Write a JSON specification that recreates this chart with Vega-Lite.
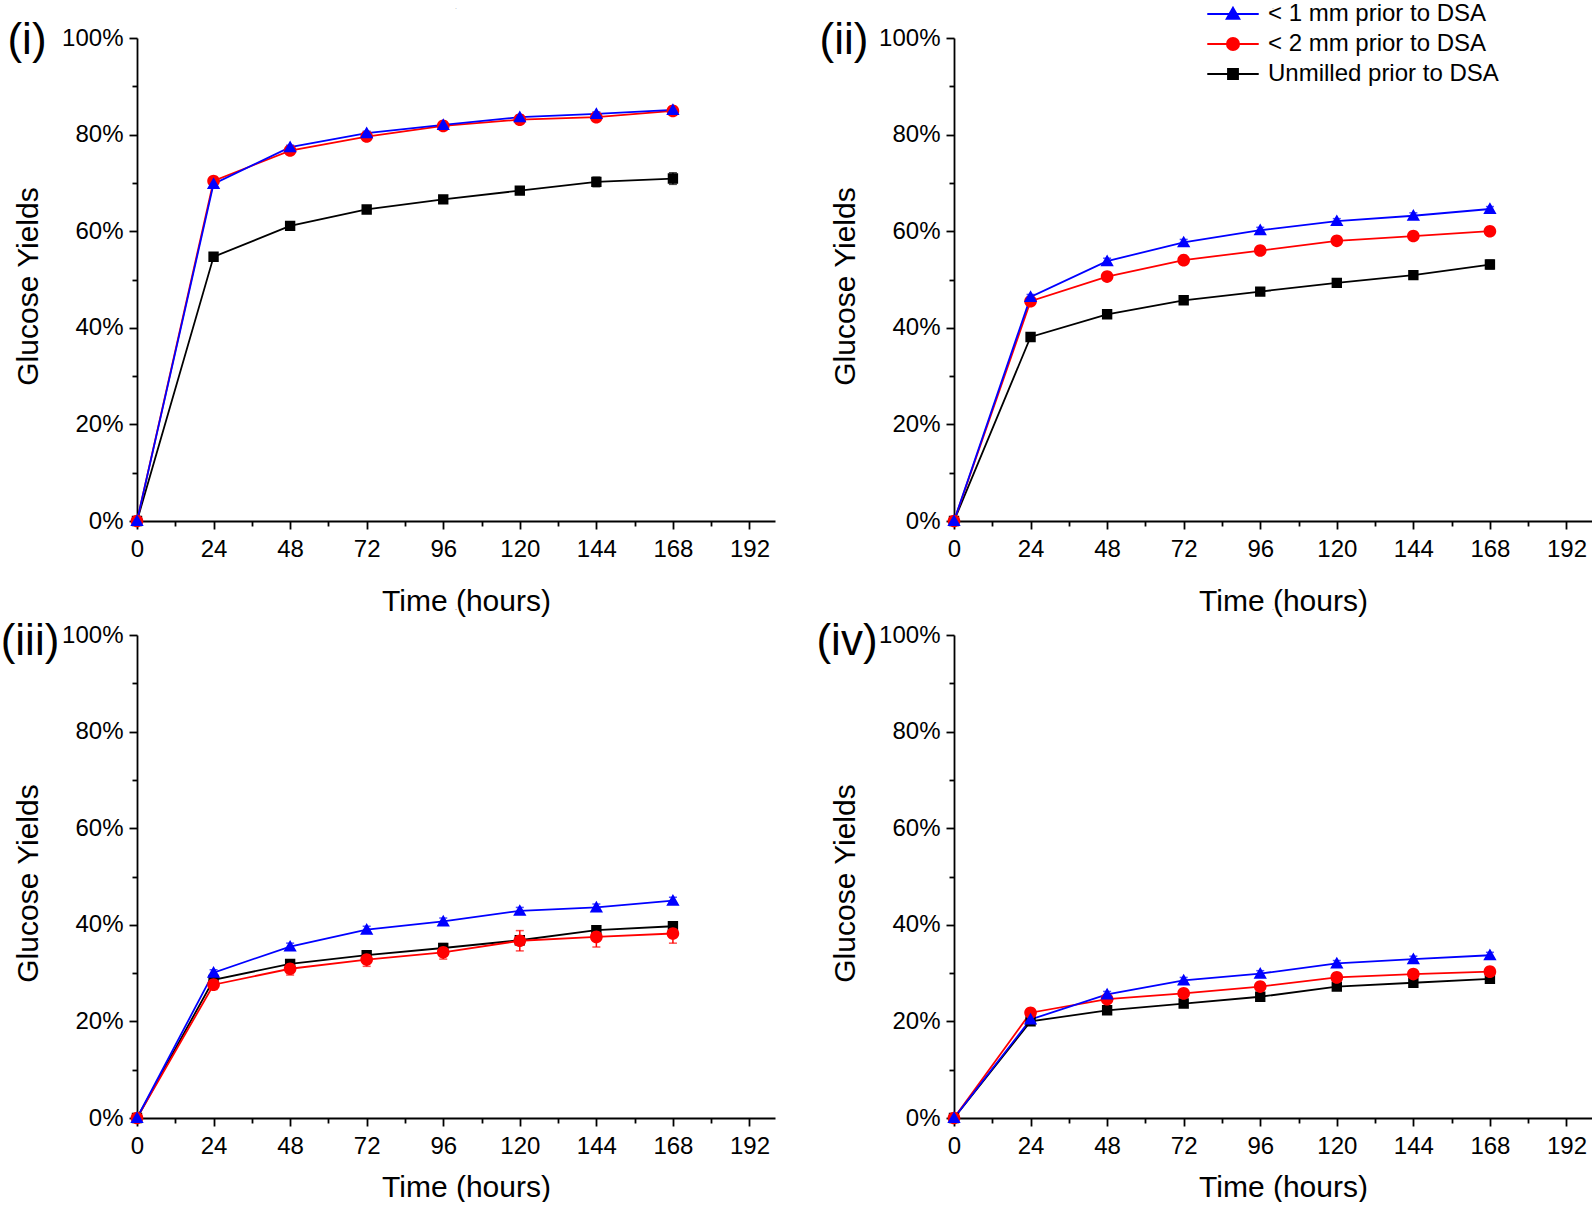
{
  "$schema": "https://vega.github.io/schema/vega-lite/v6.json",
  "padding": {"top": 2, "left": 0, "right": 0, "bottom": 0},
  "spacing": -7,
  "datasets": {
    "d": [
      {"p":"(i)","s":"Unmilled prior to DSA","t":0,"v":0,"e":0},
      {"p":"(i)","s":"Unmilled prior to DSA","t":24,"v":0.547,"e":0.004},
      {"p":"(i)","s":"Unmilled prior to DSA","t":48,"v":0.611,"e":0.004},
      {"p":"(i)","s":"Unmilled prior to DSA","t":72,"v":0.645,"e":0.004},
      {"p":"(i)","s":"Unmilled prior to DSA","t":96,"v":0.666,"e":0.005},
      {"p":"(i)","s":"Unmilled prior to DSA","t":120,"v":0.684,"e":0.005},
      {"p":"(i)","s":"Unmilled prior to DSA","t":144,"v":0.702,"e":0.010},
      {"p":"(i)","s":"Unmilled prior to DSA","t":168,"v":0.709,"e":0.012},
      {"p":"(i)","s":"< 2 mm prior to DSA","t":0,"v":0,"e":0},
      {"p":"(i)","s":"< 2 mm prior to DSA","t":24,"v":0.704,"e":0.004},
      {"p":"(i)","s":"< 2 mm prior to DSA","t":48,"v":0.767,"e":0.004},
      {"p":"(i)","s":"< 2 mm prior to DSA","t":72,"v":0.796,"e":0.004},
      {"p":"(i)","s":"< 2 mm prior to DSA","t":96,"v":0.818,"e":0.004},
      {"p":"(i)","s":"< 2 mm prior to DSA","t":120,"v":0.831,"e":0.004},
      {"p":"(i)","s":"< 2 mm prior to DSA","t":144,"v":0.836,"e":0.004},
      {"p":"(i)","s":"< 2 mm prior to DSA","t":168,"v":0.849,"e":0.004},
      {"p":"(i)","s":"< 1 mm prior to DSA","t":0,"v":0,"e":0},
      {"p":"(i)","s":"< 1 mm prior to DSA","t":24,"v":0.698,"e":0.004},
      {"p":"(i)","s":"< 1 mm prior to DSA","t":48,"v":0.774,"e":0.004},
      {"p":"(i)","s":"< 1 mm prior to DSA","t":72,"v":0.803,"e":0.004},
      {"p":"(i)","s":"< 1 mm prior to DSA","t":96,"v":0.820,"e":0.004},
      {"p":"(i)","s":"< 1 mm prior to DSA","t":120,"v":0.836,"e":0.004},
      {"p":"(i)","s":"< 1 mm prior to DSA","t":144,"v":0.843,"e":0.004},
      {"p":"(i)","s":"< 1 mm prior to DSA","t":168,"v":0.851,"e":0.004},

      {"p":"(ii)","s":"Unmilled prior to DSA","t":0,"v":0,"e":0},
      {"p":"(ii)","s":"Unmilled prior to DSA","t":24,"v":0.381,"e":0.004},
      {"p":"(ii)","s":"Unmilled prior to DSA","t":48,"v":0.428,"e":0.004},
      {"p":"(ii)","s":"Unmilled prior to DSA","t":72,"v":0.457,"e":0.004},
      {"p":"(ii)","s":"Unmilled prior to DSA","t":96,"v":0.475,"e":0.004},
      {"p":"(ii)","s":"Unmilled prior to DSA","t":120,"v":0.493,"e":0.005},
      {"p":"(ii)","s":"Unmilled prior to DSA","t":144,"v":0.509,"e":0.006},
      {"p":"(ii)","s":"Unmilled prior to DSA","t":168,"v":0.531,"e":0.009},
      {"p":"(ii)","s":"< 2 mm prior to DSA","t":0,"v":0,"e":0},
      {"p":"(ii)","s":"< 2 mm prior to DSA","t":24,"v":0.455,"e":0.004},
      {"p":"(ii)","s":"< 2 mm prior to DSA","t":48,"v":0.506,"e":0.004},
      {"p":"(ii)","s":"< 2 mm prior to DSA","t":72,"v":0.540,"e":0.004},
      {"p":"(ii)","s":"< 2 mm prior to DSA","t":96,"v":0.560,"e":0.004},
      {"p":"(ii)","s":"< 2 mm prior to DSA","t":120,"v":0.580,"e":0.004},
      {"p":"(ii)","s":"< 2 mm prior to DSA","t":144,"v":0.590,"e":0.004},
      {"p":"(ii)","s":"< 2 mm prior to DSA","t":168,"v":0.600,"e":0.006},
      {"p":"(ii)","s":"< 1 mm prior to DSA","t":0,"v":0,"e":0},
      {"p":"(ii)","s":"< 1 mm prior to DSA","t":24,"v":0.464,"e":0.005},
      {"p":"(ii)","s":"< 1 mm prior to DSA","t":48,"v":0.538,"e":0.006},
      {"p":"(ii)","s":"< 1 mm prior to DSA","t":72,"v":0.577,"e":0.006},
      {"p":"(ii)","s":"< 1 mm prior to DSA","t":96,"v":0.602,"e":0.006},
      {"p":"(ii)","s":"< 1 mm prior to DSA","t":120,"v":0.621,"e":0.005},
      {"p":"(ii)","s":"< 1 mm prior to DSA","t":144,"v":0.632,"e":0.006},
      {"p":"(ii)","s":"< 1 mm prior to DSA","t":168,"v":0.646,"e":0.005},

      {"p":"(iii)","s":"Unmilled prior to DSA","t":0,"v":0,"e":0},
      {"p":"(iii)","s":"Unmilled prior to DSA","t":24,"v":0.286,"e":0.006},
      {"p":"(iii)","s":"Unmilled prior to DSA","t":48,"v":0.319,"e":0.008},
      {"p":"(iii)","s":"Unmilled prior to DSA","t":72,"v":0.337,"e":0.008},
      {"p":"(iii)","s":"Unmilled prior to DSA","t":96,"v":0.352,"e":0.009},
      {"p":"(iii)","s":"Unmilled prior to DSA","t":120,"v":0.368,"e":0.009},
      {"p":"(iii)","s":"Unmilled prior to DSA","t":144,"v":0.389,"e":0.009},
      {"p":"(iii)","s":"Unmilled prior to DSA","t":168,"v":0.397,"e":0.009},
      {"p":"(iii)","s":"< 2 mm prior to DSA","t":0,"v":0,"e":0},
      {"p":"(iii)","s":"< 2 mm prior to DSA","t":24,"v":0.276,"e":0.010},
      {"p":"(iii)","s":"< 2 mm prior to DSA","t":48,"v":0.309,"e":0.013},
      {"p":"(iii)","s":"< 2 mm prior to DSA","t":72,"v":0.328,"e":0.014},
      {"p":"(iii)","s":"< 2 mm prior to DSA","t":96,"v":0.343,"e":0.014},
      {"p":"(iii)","s":"< 2 mm prior to DSA","t":120,"v":0.367,"e":0.021},
      {"p":"(iii)","s":"< 2 mm prior to DSA","t":144,"v":0.375,"e":0.021},
      {"p":"(iii)","s":"< 2 mm prior to DSA","t":168,"v":0.382,"e":0.020},
      {"p":"(iii)","s":"< 1 mm prior to DSA","t":0,"v":0,"e":0},
      {"p":"(iii)","s":"< 1 mm prior to DSA","t":24,"v":0.301,"e":0.006},
      {"p":"(iii)","s":"< 1 mm prior to DSA","t":48,"v":0.355,"e":0.007},
      {"p":"(iii)","s":"< 1 mm prior to DSA","t":72,"v":0.390,"e":0.007},
      {"p":"(iii)","s":"< 1 mm prior to DSA","t":96,"v":0.407,"e":0.007},
      {"p":"(iii)","s":"< 1 mm prior to DSA","t":120,"v":0.429,"e":0.007},
      {"p":"(iii)","s":"< 1 mm prior to DSA","t":144,"v":0.436,"e":0.007},
      {"p":"(iii)","s":"< 1 mm prior to DSA","t":168,"v":0.450,"e":0.007},

      {"p":"(iv)","s":"Unmilled prior to DSA","t":0,"v":0,"e":0},
      {"p":"(iv)","s":"Unmilled prior to DSA","t":24,"v":0.200,"e":0.004},
      {"p":"(iv)","s":"Unmilled prior to DSA","t":48,"v":0.223,"e":0.004},
      {"p":"(iv)","s":"Unmilled prior to DSA","t":72,"v":0.237,"e":0.004},
      {"p":"(iv)","s":"Unmilled prior to DSA","t":96,"v":0.251,"e":0.004},
      {"p":"(iv)","s":"Unmilled prior to DSA","t":120,"v":0.272,"e":0.004},
      {"p":"(iv)","s":"Unmilled prior to DSA","t":144,"v":0.280,"e":0.004},
      {"p":"(iv)","s":"Unmilled prior to DSA","t":168,"v":0.288,"e":0.004},
      {"p":"(iv)","s":"< 2 mm prior to DSA","t":0,"v":0,"e":0},
      {"p":"(iv)","s":"< 2 mm prior to DSA","t":24,"v":0.218,"e":0.004},
      {"p":"(iv)","s":"< 2 mm prior to DSA","t":48,"v":0.246,"e":0.004},
      {"p":"(iv)","s":"< 2 mm prior to DSA","t":72,"v":0.258,"e":0.004},
      {"p":"(iv)","s":"< 2 mm prior to DSA","t":96,"v":0.272,"e":0.004},
      {"p":"(iv)","s":"< 2 mm prior to DSA","t":120,"v":0.291,"e":0.004},
      {"p":"(iv)","s":"< 2 mm prior to DSA","t":144,"v":0.298,"e":0.004},
      {"p":"(iv)","s":"< 2 mm prior to DSA","t":168,"v":0.303,"e":0.004},
      {"p":"(iv)","s":"< 1 mm prior to DSA","t":0,"v":0,"e":0},
      {"p":"(iv)","s":"< 1 mm prior to DSA","t":24,"v":0.204,"e":0.005},
      {"p":"(iv)","s":"< 1 mm prior to DSA","t":48,"v":0.256,"e":0.006},
      {"p":"(iv)","s":"< 1 mm prior to DSA","t":72,"v":0.285,"e":0.006},
      {"p":"(iv)","s":"< 1 mm prior to DSA","t":96,"v":0.299,"e":0.006},
      {"p":"(iv)","s":"< 1 mm prior to DSA","t":120,"v":0.320,"e":0.006},
      {"p":"(iv)","s":"< 1 mm prior to DSA","t":144,"v":0.329,"e":0.006},
      {"p":"(iv)","s":"< 1 mm prior to DSA","t":168,"v":0.337,"e":0.006}
    ]
  },
  "resolve": {"axis": {"x": "independent", "y": "independent"}},
  "vconcat": [
    {
      "data": {"name": "d"},
      "transform": [{"filter": "datum.p === '(i)' || datum.p === '(ii)'"}],
      "bounds": "flush",
      "columns": 2,
      "spacing": {"row": 114, "column": 179},
      "facet": {"field": "p", "type": "nominal", "title": null, "header": {"labels": false, "title": null, "labelFontSize": 1}, "sort": ["(i)", "(ii)"]},
      "resolve": {"axis": {"x": "independent", "y": "independent"}},
      "spec": {
        "width": 638,
        "height": 483,
        "encoding": {
          "x": {
            "field": "t", "type": "quantitative",
            "scale": {"domain": [0, 200], "nice": false, "zero": false},
            "axis": {
              "title": "Time (hours)",
              "values": [0, 12, 24, 36, 48, 60, 72, 84, 96, 108, 120, 132, 144, 156, 168, 180, 192],
              "labelExpr": "datum.value % 24 === 0 ? datum.label : ''",
              "tickSize": {"condition": {"test": "datum.value % 24 === 0", "value": 8}, "value": 5},
              "labelFlush": false,
              "labelOverlap": false,
              "labelPadding": 8,
              "titlePadding": 25,
              "titleFontSize": 30,
              "titleX": 329
            }
          },
          "y": {
            "field": "v", "type": "quantitative",
            "scale": {"domain": [0, 1], "nice": false},
            "axis": {
              "title": "Glucose Yields",
              "format": ".0%",
              "values": [0, 0.1, 0.2, 0.3, 0.4, 0.5, 0.6, 0.7, 0.8, 0.9, 1.0],
              "labelExpr": "round(datum.value * 10) % 2 === 0 ? datum.label : ''",
              "tickSize": {"condition": {"test": "round(datum.value * 10) % 2 === 0", "value": 8}, "value": 5},
              "labelFlush": false,
              "labelOverlap": false,
              "labelPadding": 6,
              "titlePadding": 18,
              "titleFontSize": 30,
              "titleY": 248
            }
          },
          "color": {
            "field": "s", "type": "nominal",
            "scale": {
              "domain": ["< 1 mm prior to DSA", "< 2 mm prior to DSA", "Unmilled prior to DSA"],
              "range": ["#0000ff", "#ff0000", "#000000"]
            },
            "legend": {
              "orient": "none",
              "legendX": 1084,
              "legendY": -36,
              "title": null,
              "labelFontSize": 24,
              "labelFont": "Liberation Sans",
              "labelLimit": 0,
              "labelOffset": 23,
              "rowPadding": 6,
              "symbolSize": 150,
              "encode": {
                "symbols": {
                  "update": {
                    "stroke": {"scale": "color", "field": "value"},
                    "strokeWidth": {"value": 1.8}
                  }
                }
              }
            }
          }
        },
        "layer": [
          {"mark": {"type": "line", "strokeWidth": 1.8}},
          {
            "mark": {"type": "errorbar", "ticks": {"size": 8, "thickness": 1.5}, "thickness": 1.5},
            "encoding": {"y": {"field": "v", "type": "quantitative"}, "yError": {"field": "e"}}
          },
          {
            "mark": {"type": "point", "filled": true, "opacity": 1, "strokeWidth": 0, "size": 160},
            "encoding": {
              "shape": {
                "field": "s", "type": "nominal",
                "scale": {
                  "domain": ["< 1 mm prior to DSA", "< 2 mm prior to DSA", "Unmilled prior to DSA"],
                  "range": [
                    "M-4.2,0H4.2M0,-1.05L1.05,0.8L-1.05,0.8Z",
                    "M-4.2,0H4.2M-1,0A1,1,0,1,0,1,0A1,1,0,1,0,-1,0Z",
                    "M-4.2,0H4.2M-0.82,-0.82H0.82V0.82H-0.82Z"
                  ]
                },
                "legend": {"orient": "none", "legendX": 1084, "legendY": -36, "title": null}
              }
            }
          },
          {
            "transform": [{"filter": "datum.t === 0 && datum.s === 'Unmilled prior to DSA'"}],
            "mark": {"type": "text", "fontSize": 44, "align": "center", "baseline": "middle", "font": "Liberation Sans"},
            "encoding": {
              "x": {"value": -110},
              "y": {"value": 3},
              "text": {"field": "p"},
              "color": {"value": "black"}
            }
          }
        ]
      }
    },
    {
      "data": {"name": "d"},
      "transform": [{"filter": "datum.p === '(iii)' || datum.p === '(iv)'"}],
      "bounds": "flush",
      "columns": 2,
      "spacing": {"row": 114, "column": 179},
      "facet": {"field": "p", "type": "nominal", "title": null, "header": {"labels": false, "title": null, "labelFontSize": 1}, "sort": ["(iii)", "(iv)"]},
      "resolve": {"axis": {"x": "independent", "y": "independent"}},
      "spec": {
        "width": 638,
        "height": 483,
        "encoding": {
          "x": {
            "field": "t", "type": "quantitative",
            "scale": {"domain": [0, 200], "nice": false, "zero": false},
            "axis": {
              "title": "Time (hours)",
              "values": [0, 12, 24, 36, 48, 60, 72, 84, 96, 108, 120, 132, 144, 156, 168, 180, 192],
              "labelExpr": "datum.value % 24 === 0 ? datum.label : ''",
              "tickSize": {"condition": {"test": "datum.value % 24 === 0", "value": 8}, "value": 5},
              "labelFlush": false,
              "labelOverlap": false,
              "labelPadding": 8,
              "titlePadding": 14,
              "titleFontSize": 30,
              "titleX": 329
            }
          },
          "y": {
            "field": "v", "type": "quantitative",
            "scale": {"domain": [0, 1], "nice": false},
            "axis": {
              "title": "Glucose Yields",
              "format": ".0%",
              "values": [0, 0.1, 0.2, 0.3, 0.4, 0.5, 0.6, 0.7, 0.8, 0.9, 1.0],
              "labelExpr": "round(datum.value * 10) % 2 === 0 ? datum.label : ''",
              "tickSize": {"condition": {"test": "round(datum.value * 10) % 2 === 0", "value": 8}, "value": 5},
              "labelFlush": false,
              "labelOverlap": false,
              "labelPadding": 6,
              "titlePadding": 18,
              "titleFontSize": 30,
              "titleY": 248
            }
          },
          "color": {
            "field": "s", "type": "nominal",
            "scale": {
              "domain": ["< 1 mm prior to DSA", "< 2 mm prior to DSA", "Unmilled prior to DSA"],
              "range": ["#0000ff", "#ff0000", "#000000"]
            }
          }
        },
        "layer": [
          {"mark": {"type": "line", "strokeWidth": 1.8}},
          {
            "mark": {"type": "errorbar", "ticks": {"size": 8, "thickness": 1.5}, "thickness": 1.5},
            "encoding": {"y": {"field": "v", "type": "quantitative"}, "yError": {"field": "e"}}
          },
          {
            "mark": {"type": "point", "filled": true, "opacity": 1, "strokeWidth": 0, "size": 160},
            "encoding": {
              "shape": {
                "field": "s", "type": "nominal",
                "scale": {
                  "domain": ["< 1 mm prior to DSA", "< 2 mm prior to DSA", "Unmilled prior to DSA"],
                  "range": [
                    "M-4.2,0H4.2M0,-1.05L1.05,0.8L-1.05,0.8Z",
                    "M-4.2,0H4.2M-1,0A1,1,0,1,0,1,0A1,1,0,1,0,-1,0Z",
                    "M-4.2,0H4.2M-0.82,-0.82H0.82V0.82H-0.82Z"
                  ]
                }
              }
            }
          },
          {
            "transform": [{"filter": "datum.t === 0 && datum.s === 'Unmilled prior to DSA'"}],
            "mark": {"type": "text", "fontSize": 44, "align": "center", "baseline": "middle", "font": "Liberation Sans"},
            "encoding": {
              "x": {"value": -107},
              "y": {"value": 7},
              "text": {"field": "p"},
              "color": {"value": "black"}
            }
          }
        ]
      }
    }
  ],
  "config": {
    "font": "Liberation Sans",
    "view": {"stroke": null},
    "axis": {
      "grid": false,
      "domainColor": "black",
      "domainWidth": 1.8,
      "tickColor": "black",
      "tickWidth": 1.8,
      "labelColor": "black",
      "labelFontSize": 24,
      "labelFont": "Liberation Sans",
      "titleColor": "black",
      "titleFontSize": 28,
      "titleFontWeight": "normal",
      "titleFont": "Liberation Sans"
    },
    "legend": {"labelColor": "black"}
  }
}
